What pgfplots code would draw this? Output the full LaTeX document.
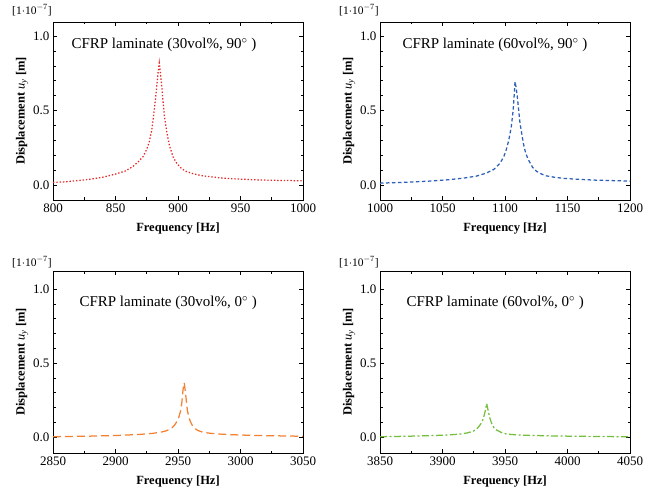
\documentclass[border=0pt]{standalone}
\usepackage{pgfplots}
\pgfplotsset{compat=1.18}
\usepackage{fontspec}
\setmainfont{Liberation Serif}
\definecolor{cred}{RGB}{232,40,40}
\definecolor{cblue}{RGB}{45,95,185}
\definecolor{corange}{RGB}{242,130,50}
\definecolor{cgreen}{RGB}{115,190,60}
\pgfplotsset{panel/.style={
  scale only axis, width=250pt, clip mode=individual,
  tick align=inside, major tick length=4pt, minor tick length=2.5pt,
  minor x tick num=1, minor y tick num=4, ytick={0,0.5,1},
  /pgf/number format/assume math mode=true,
  /pgf/number format/1000 sep={},
  scaled x ticks=false, scaled y ticks=false,
  yticklabel style={/pgf/number format/fixed, /pgf/number format/fixed zerofill, /pgf/number format/precision=1},
  ticklabel style={font=\fontsize{13}{13}\selectfont},
  every tick/.style={black, line width=0.6pt},
  axis line style={line width=0.8pt},
  xlabel={\textbf{Frequency [Hz]}},
  ylabel={\textbf{Displacement} \textit{u}\textsubscript{\textit{y}} \textbf{[m]}},
  xlabel style={font=\fontsize{12.5}{12.5}\selectfont, yshift=-4pt},
  ylabel style={font=\fontsize{12.5}{12.5}\selectfont, yshift=-2pt},
  every axis plot/.append style={line width=1.25pt},
}}
\begin{document}
\begin{tikzpicture}
\path[use as bounding box] (0,0) rectangle (662pt,-492pt);
% Panel 1
\begin{axis}[panel, at={(53pt,-22pt)}, anchor=north west, height=178pt,
  xmin=800, xmax=1000, xtick={800,850,900,950,1000}, ymin=-0.1, ymax=1.094]
\addplot[cred, dash pattern=on 1.4pt off 1.9pt] coordinates {
(800,0.018) (810,0.022) (820,0.030) (830,0.040) (840,0.053) (850,0.074) (858,0.095)
(864,0.125) (868,0.155) (872,0.19) (875,0.24) (877,0.29) (879,0.37) (881,0.50)
(883,0.66) (884,0.75) (885,0.82) (886,0.75) (887,0.66) (889,0.47) (891,0.36)
(893,0.27) (896,0.19) (899,0.145) (903,0.11) (907,0.09) (913,0.074) (920,0.062)
(933,0.049) (945,0.042) (960,0.036) (975,0.032) (1000,0.029)};
\node[anchor=west, font=\fontsize{15}{15}\selectfont] at (rel axis cs:0.06,0.871) {CFRP laminate (30vol\%, 90$^{\circ}$ )};
\node[anchor=south east, inner sep=1pt, font=\fontsize{11.5}{11.5}\selectfont] at (rel axis cs:0,1) [yshift=5pt] {[1$\cdot$10$^{-7}$]};
\end{axis}
% Panel 2
\begin{axis}[panel, at={(380pt,-22pt)}, anchor=north west, height=178pt,
  xmin=1000, xmax=1200, xtick={1000,1050,1100,1150,1200}, ymin=-0.1, ymax=1.094]
\addplot[cblue, dash pattern=on 3.5pt off 2.5pt] coordinates {
(1000,0.013) (1020,0.019) (1040,0.027) (1055,0.036) (1067,0.047) (1077,0.060) (1085,0.080)
(1091,0.105) (1096,0.147) (1099,0.19) (1101,0.237) (1103,0.30) (1105,0.39) (1106.5,0.50)
(1107.5,0.62) (1108,0.694) (1109,0.65) (1110,0.58) (1112,0.415) (1114.7,0.28) (1116.5,0.215)
(1118.7,0.17) (1122,0.12) (1125.3,0.092) (1129,0.075) (1133,0.062) (1140,0.052) (1147,0.045)
(1160,0.038) (1173,0.033) (1186,0.030) (1200,0.027)};
\node[anchor=west, font=\fontsize{15}{15}\selectfont] at (rel axis cs:0.076,0.871) {CFRP laminate (60vol\%, 90$^{\circ}$ )};
\node[anchor=south east, inner sep=1pt, font=\fontsize{11.5}{11.5}\selectfont] at (rel axis cs:0,1) [yshift=5pt] {[1$\cdot$10$^{-7}$]};
\end{axis}
% Panel 3
\begin{axis}[panel, at={(53pt,-271pt)}, anchor=north west, height=182pt,
  xmin=2850, xmax=3050, xtick={2850,2900,2950,3000,3050}, ymin=-0.108, ymax=1.122]
\addplot[corange, dash pattern=on 8pt off 4pt] coordinates {
(2850,0.002) (2880,0.006) (2903,0.011) (2920,0.018) (2930,0.025) (2937,0.034) (2941,0.043)
(2945,0.060) (2947.3,0.081) (2949.5,0.110) (2950.8,0.137) (2952,0.175) (2953,0.227)
(2954,0.318) (2955,0.367) (2956,0.295) (2957,0.22) (2957.5,0.18) (2958.7,0.135)
(2959.9,0.104) (2961.5,0.078) (2963.3,0.059) (2966,0.044) (2970,0.032) (2976,0.025)
(2983,0.020) (2995,0.015) (3010,0.011) (3030,0.008) (3050,0.005)};
\node[anchor=west, font=\fontsize{15}{15}\selectfont] at (rel axis cs:0.092,0.824) {CFRP laminate (30vol\%, 0$^{\circ}$ )};
\node[anchor=south east, inner sep=1pt, font=\fontsize{11.5}{11.5}\selectfont] at (rel axis cs:0,1) [yshift=2pt] {[1$\cdot$10$^{-7}$]};
\end{axis}
% Panel 4
\begin{axis}[panel, at={(380pt,-271pt)}, anchor=north west, height=182pt,
  xmin=3850, xmax=4050, xtick={3850,3900,3950,4000,4050}, ymin=-0.108, ymax=1.122]
\addplot[cgreen, dash pattern=on 7pt off 2.5pt on 2pt off 2.5pt] coordinates {
(3850,0.002) (3870,0.005) (3890,0.009) (3905,0.014) (3914,0.020) (3920,0.028) (3924.7,0.040)
(3927.5,0.055) (3930,0.081) (3931.5,0.10) (3932.7,0.126) (3934.3,0.18) (3935.3,0.227)
(3936,0.20) (3937,0.16) (3938,0.125) (3939.3,0.092) (3941,0.065) (3943.3,0.047)
(3947,0.031) (3951.3,0.020) (3960,0.014) (3970,0.011) (3990,0.007) (4010,0.005)
(4030,0.003) (4050,0.002)};
\node[anchor=west, font=\fontsize{15}{15}\selectfont] at (rel axis cs:0.092,0.824) {CFRP laminate (60vol\%, 0$^{\circ}$ )};
\node[anchor=south east, inner sep=1pt, font=\fontsize{11.5}{11.5}\selectfont] at (rel axis cs:0,1) [yshift=2pt] {[1$\cdot$10$^{-7}$]};
\end{axis}
\end{tikzpicture}
\end{document}
